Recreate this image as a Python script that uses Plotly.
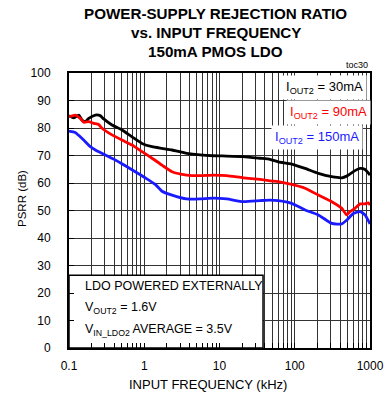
import plotly.graph_objects as go

# Frequency (kHz) and PSRR (dB) for each load current
freq_30 = [0.1, 0.115, 0.135, 0.149, 0.165, 0.183, 0.224, 0.26, 0.289, 0.373, 0.506, 0.688,
           0.934, 1.27, 1.72, 2.34, 3.67, 5.51, 8.27, 12.5, 20.7, 34.5, 46.9, 60.4, 91, 137,
           206, 310, 421, 490, 632, 737, 859, 1000]
psrr_30 = [84.5, 83.7, 84.7, 82.9, 82.3, 83.5, 84.7, 84.5, 83.3, 81.1, 79.3, 76.8,
           74.4, 73.2, 72.6, 72.0, 70.8, 70.2, 69.9, 69.8, 69.6, 69.0, 68.6, 67.7, 66.9, 65.3,
           63.5, 62.3, 61.9, 62.5, 64.5, 65.3, 64.9, 62.9]

freq_90 = [0.1, 0.121, 0.141, 0.157, 0.183, 0.213, 0.248, 0.275, 0.373, 0.506, 0.688, 0.934,
           1.27, 1.72, 2.34, 3.67, 5.51, 8.27, 12.5, 20.7, 34.5, 46.9, 60.4, 91, 137, 206,
           310, 421, 490, 542, 632, 737, 859, 949, 1000]
psrr_90 = [84.1, 84.7, 83.5, 82.1, 82.3, 81.7, 81.3, 79.9, 77.5, 75.6, 73.8, 71.4,
           69.0, 66.5, 64.1, 62.9, 62.7, 62.9, 62.7, 61.9, 61.3, 60.8, 60.5, 59.5, 58.1, 55.6,
           53.2, 50.8, 48.4, 49.6, 50.8, 52.4, 52.4, 52.8, 52.0]

freq_150 = [0.1, 0.121, 0.141, 0.165, 0.192, 0.224, 0.304, 0.412, 0.56, 0.76, 1.03, 1.40,
            1.72, 2.34, 3.67, 5.51, 8.27, 12.5, 20.7, 34.5, 46.9, 60.4, 91, 137, 206, 310,
            421, 490, 600, 737, 859, 1000]
psrr_150 = [78.9, 78.4, 76.8, 75.0, 73.2, 72.0, 70.2, 68.4, 66.3, 64.1, 61.9, 59.5,
            57.0, 55.6, 54.2, 54.2, 54.5, 54.2, 53.2, 53.6, 53.8, 53.6, 52.6, 50.2, 48.4, 45.3,
            45.1, 46.5, 48.9, 49.6, 48.4, 45.1]

series_labels = ["I<sub>OUT2</sub> = 30mA", "I<sub>OUT2</sub> = 90mA", "I<sub>OUT2</sub> = 150mA"]
series_colors = ["#000000", "#ff0000", "#1a1aff"]

decade_ticks = [0.1, 1, 10, 100, 1000]
decade_labels = ["0.1", "1", "10", "100", "1000"]
y_ticks = list(range(0, 101, 10))

# every 1..9 multiple per decade gets a grid line; only decades are labelled
x_grid = []
x_text = []
for d, lab in zip(decade_ticks[:-1], decade_labels[:-1]):
    for m in range(1, 10):
        x_grid.append(round(d * m, 6))
        x_text.append(lab if m == 1 else "")
x_grid.append(decade_ticks[-1])
x_text.append(decade_labels[-1])

narrow = "Liberation Sans Narrow, Arial Narrow, Liberation Sans, Arial"
regular = "Liberation Sans, Arial"

fig = go.Figure()

# white note box in the lower-left corner: drawn as a filled trace so it covers the grid
# while the inside tick marks (axis layer) stay visible on top of it
fig.add_trace(go.Scatter(x=[0.1, 37.9, 37.9, 0.1, 0.1], y=[0, 0, 26.5, 26.5, 0],
                         mode="lines", fill="toself", fillcolor="white",
                         line=dict(color="black", width=1.5),
                         showlegend=False, hoverinfo="skip"))

for fx, fy, col in [(freq_30, psrr_30, series_colors[0]),
                    (freq_90, psrr_90, series_colors[1]),
                    (freq_150, psrr_150, series_colors[2])]:
    fig.add_trace(go.Scatter(x=fx, y=fy, mode="lines",
                             line=dict(color=col, width=2.8, shape="spline", smoothing=0.5),
                             showlegend=False, hoverinfo="skip"))

grid_col = "#333333"
fig.update_xaxes(type="log", range=[-1, 3], tickmode="array", tickvals=x_grid, ticktext=x_text,
                 showgrid=True, gridcolor=grid_col, gridwidth=1,
                 ticks="inside", ticklen=5, tickcolor="black",
                 showline=True, linecolor="black", linewidth=2, mirror=True,
                 tickfont=dict(family=narrow, size=12, color="black"),
                 ticklabelstandoff=6, automargin=False,
                 zeroline=False)
fig.update_yaxes(range=[0, 100], tickvals=y_ticks,
                 showgrid=True, gridcolor=grid_col, gridwidth=1,
                 ticks="inside", ticklen=5, tickcolor="black",
                 showline=True, linecolor="black", linewidth=2, mirror=True,
                 tickfont=dict(family=narrow, size=12, color="black"),
                 ticklabelstandoff=14, automargin=False,
                 zeroline=False)

annotations = []
title_lines = ["POWER-SUPPLY REJECTION RATIO", "vs. INPUT FREQUENCY", "150mA PMOS LDO"]
for txt, yp in zip(title_lines, [1.218, 1.147, 1.078]):
    annotations.append(dict(text="<b>" + txt + "</b>", xref="paper", yref="paper", x=0.487, y=yp,
                            xanchor="center", yanchor="middle", showarrow=False,
                            font=dict(family=narrow, size=15.2, color="black")))

annotations.append(dict(text="toc30", xref="paper", yref="paper", x=1.0, y=1.029,
                        xanchor="right", yanchor="middle", showarrow=False,
                        font=dict(family=regular, size=9, color="black")))

# axis titles
annotations.append(dict(text="INPUT FREQUENCY (kHz)", xref="paper", yref="paper", x=0.462, y=-0.134,
                        xanchor="center", yanchor="middle", showarrow=False,
                        font=dict(family=regular, size=13, color="black")))
annotations.append(dict(text="PSRR (dB)", xref="paper", yref="paper", x=-0.156, y=0.542,
                        xanchor="center", yanchor="middle", showarrow=False, textangle=-90,
                        font=dict(family=regular, size=11.5, color="black")))

for txt, col, xp, yp in zip(series_labels, series_colors, [0.849, 0.862, 0.824], [0.949, 0.858, 0.767]):
    annotations.append(dict(text=txt, xref="paper", yref="paper", x=xp, y=yp,
                            xanchor="center", yanchor="middle", showarrow=False,
                            bgcolor="white", borderpad=3,
                            font=dict(family=regular, size=13, color=col)))

note_lines = ["LDO POWERED EXTERNALLY", "V<sub>OUT2</sub> = 1.6V", "V<sub>IN_LDO2</sub> AVERAGE = 3.5V"]
for txt, yp in zip(note_lines, [0.2255, 0.1455, 0.0655]):
    annotations.append(dict(text=txt, xref="paper", yref="paper", x=0.0465, y=yp,
                            xanchor="left", yanchor="middle", showarrow=False,
                            font=dict(family=regular, size=12.5, color="black")))

fig.update_layout(width=392, height=398, margin=dict(l=69, r=22, t=73, b=50),
                  paper_bgcolor="white", plot_bgcolor="white",
                  annotations=annotations)

fig.write_html("out.html")
